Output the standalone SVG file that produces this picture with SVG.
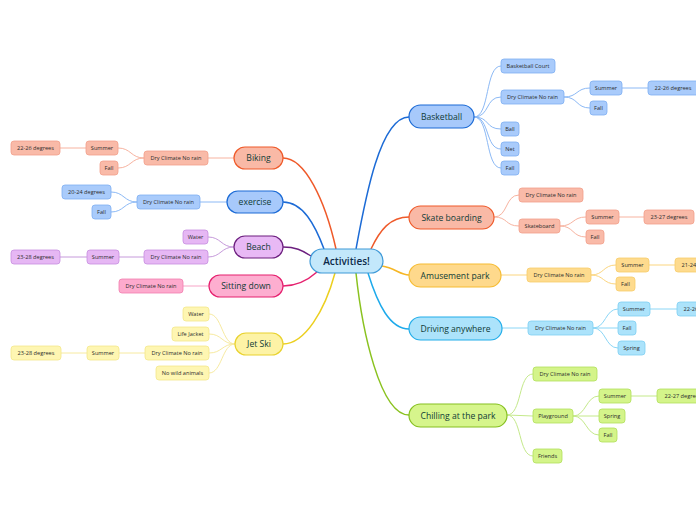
<svg xmlns="http://www.w3.org/2000/svg" width="696" height="520" viewBox="0 0 696 520">
<style>
text{font-family:"Open Sans","Noto Sans","DejaVu Sans",sans-serif;text-anchor:middle;dominant-baseline:central}
.mt{font-size:8.6px;fill:#0f3b36;font-weight:500}
.st{font-size:5.6px;fill:#2b2b2b}
.m{stroke-width:1.2}
.s{stroke-width:0.8}
.c{fill:none}
.cm{stroke-width:1.5}
.cs{stroke-width:1}
.blue .m{fill:#a7c9fb;stroke:#1c6bd6}.blue .s{fill:#a9cbfb;stroke:#7eaef2}
.red .m{fill:#f9b9a6;stroke:#ef5a2a}.red .s{fill:#f9baa8;stroke:#f3a08a}
.yel .m{fill:#fed98c;stroke:#f6bc33}.yel .s{fill:#fedb8e;stroke:#f8cd6a}
.cya .m{fill:#ace3fb;stroke:#23aeea}.cya .s{fill:#ace3fb;stroke:#7fcff3}
.grn .m{fill:#d6f58c;stroke:#86c020}.grn .s{fill:#d4f48a;stroke:#b1e05a}
.pur .m{fill:#e8b9f5;stroke:#6c1f7f}.pur .s{fill:#e6b7f4;stroke:#c78de0}
.pnk .m{fill:#fdaed0;stroke:#e5206e}.pnk .s{fill:#fdaacd;stroke:#f17eae}
.jet .m{fill:#fdf3a6;stroke:#e9d22f}.jet .s{fill:#fef6b2;stroke:#f4e78a}
</style>
<rect width="696" height="520" fill="#ffffff"/>
<g id="connectors" class="c">
<path class="cm" stroke="#1c6bd6" d="M356 249 C365 200,380 117,409 117"/>
<path class="cm" stroke="#ef5a2a" d="M371 249 C380 230,390 217,409 217"/>
<path class="cm" stroke="#f6b624" d="M382 266 C395 268,400 275,409 275"/>
<path class="cm" stroke="#1eaaeb" d="M368 273 C378 305,390 329,409 329"/>
<path class="cm" stroke="#8ac21f" d="M356 273 C362 330,380 415,409 415"/>
<path class="cm" stroke="#ef5a2a" d="M283 158 C305 158,325 200,336 249"/>
<path class="cm" stroke="#1c6bd6" d="M283 202 C303 202,315 225,324 249"/>
<path class="cm" stroke="#6c1f7f" d="M283 247 C295 247,302 250,311 256"/>
<path class="cm" stroke="#e5206e" d="M283 286 C298 286,308 280,317 272"/>
<path class="cm" stroke="#eccf1e" d="M283 344 C305 344,325 310,335 273"/>
<g class="cs" stroke="#8cb9f5">
<path d="M474 117 C490 117,485 66,501 66"/>
<path d="M474 117 C490 117,485 97,501 97"/>
<path d="M474 117 C490 117,485 129,501 129"/>
<path d="M474 117 C490 117,485 149,501 149"/>
<path d="M474 117 C490 117,485 168,501 168"/>
<path d="M564 97 C578 97,576 88,590 88"/>
<path d="M564 97 C578 97,576 108,590 108"/>
<path d="M622 88 L648 88"/>
</g>
<g class="cs" stroke="#f7b3a0">
<path d="M494 217 C508 217,505 195,519 195"/>
<path d="M494 217 C508 217,505 226,519 226"/>
<path d="M560 226 C574 226,572 217,586 217"/>
<path d="M560 226 C574 226,572 237,586 237"/>
<path d="M619 217 L644 217"/>
</g>
<g class="cs" stroke="#fbd57e">
<path d="M501 275 L527 275"/>
<path d="M591 275 C604 275,603 265,616 265"/>
<path d="M591 275 C604 275,603 284,616 284"/>
<path d="M649 265 L675 265"/>
</g>
<g class="cs" stroke="#8bd6f6">
<path d="M502 328 L528 328"/>
<path d="M593 328 C606 328,605 309,618 309"/>
<path d="M593 328 L618 328"/>
<path d="M593 328 C606 328,605 348,618 348"/>
<path d="M650 309 L677 309"/>
</g>
<g class="cs" stroke="#c4e98a">
<path d="M507 415 C522 415,518 374,533 374"/>
<path d="M507 415 L533 416"/>
<path d="M507 415 C522 415,518 456,533 456"/>
<path d="M573 416 C586 416,586 396,599 396"/>
<path d="M573 416 L599 416"/>
<path d="M573 416 C586 416,586 435,599 435"/>
<path d="M631 396 L657 396"/>
</g>
<g class="cs" stroke="#f7b3a0">
<path d="M234 158 L208 158"/>
<path d="M144 158 C131 158,131 148,118 148"/>
<path d="M144 158 C131 158,131 168,118 168"/>
<path d="M86 148 L60 148"/>
</g>
<g class="cs" stroke="#8cb9f5">
<path d="M227 202 L200 202"/>
<path d="M137 202 C124 202,124 192,111 192"/>
<path d="M137 202 C124 202,124 212,111 212"/>
</g>
<g class="cs" stroke="#c69adb">
<path d="M234 247 C221 247,221 237,208 237"/>
<path d="M234 247 C221 247,221 257,208 257"/>
<path d="M144 257 L119 257"/>
<path d="M87 257 L60 257"/>
</g>
<g class="cs" stroke="#f7a4c7">
<path d="M209 286 L183 286"/>
</g>
<g class="cs" stroke="#f7eaa0">
<path d="M235 344 C222 344,222 314,209 314"/>
<path d="M235 344 C222 344,222 334,209 334"/>
<path d="M235 344 C222 344,222 353,209 353"/>
<path d="M235 344 C222 344,222 373,209 373"/>
<path d="M145 353 L119 353"/>
<path d="M87 353 L61 353"/>
</g>
</g>

<g id="center">
<rect x="310" y="249" width="73" height="24" rx="12" fill="#c3e8fb" stroke="#3f9ad8" stroke-width="1.2"/>
<text x="346.5" y="261" style="font-size:10px;fill:#0d2b4a;font-weight:600">Activities!</text>
</g>

<g id="basketball" class="blue">
<rect class="m" x="409" y="105" width="65" height="23" rx="11.5"/><text class="mt" x="441.5" y="116.5">Basketball</text>
<rect class="s" x="501" y="59" width="54" height="14" rx="3"/><text class="st" x="528" y="66">Basketball Court</text>
<rect class="s" x="501" y="90" width="63" height="14" rx="3"/><text class="st" x="532.5" y="97">Dry Climate No rain</text>
<rect class="s" x="590" y="81" width="32" height="14" rx="3"/><text class="st" x="606" y="88">Summer</text>
<rect class="s" x="648" y="81" width="52" height="14" rx="3"/><text class="st" x="673" y="88">22-26 degrees</text>
<rect class="s" x="590" y="101" width="17" height="14" rx="3"/><text class="st" x="598.5" y="108">Fall</text>
<rect class="s" x="501" y="122" width="18" height="14" rx="3"/><text class="st" x="510" y="129">Ball</text>
<rect class="s" x="501" y="142" width="18" height="14" rx="3"/><text class="st" x="510" y="149">Net</text>
<rect class="s" x="501" y="161" width="18" height="14" rx="3"/><text class="st" x="510" y="168">Fall</text>
</g>

<g id="skateboarding" class="red">
<rect class="m" x="409" y="206" width="85" height="23" rx="11.5"/><text class="mt" x="451.5" y="217.5">Skate boarding</text>
<rect class="s" x="519" y="188" width="64" height="14" rx="3"/><text class="st" x="551" y="195">Dry Climate No rain</text>
<rect class="s" x="519" y="219" width="41" height="14" rx="3"/><text class="st" x="539.5" y="226">Skateboard</text>
<rect class="s" x="586" y="210" width="33" height="14" rx="3"/><text class="st" x="602.5" y="217">Summer</text>
<rect class="s" x="644" y="210" width="50" height="14" rx="3"/><text class="st" x="669" y="217">23-27 degrees</text>
<rect class="s" x="586" y="230" width="18" height="14" rx="3"/><text class="st" x="595" y="237">Fall</text>
</g>

<g id="amusementpark" class="yel">
<rect class="m" x="409" y="264" width="92" height="23" rx="11.5"/><text class="mt" x="455" y="275.5">Amusement park</text>
<rect class="s" x="527" y="268" width="64" height="14" rx="3"/><text class="st" x="559" y="275">Dry Climate No rain</text>
<rect class="s" x="616" y="258" width="33" height="14" rx="3"/><text class="st" x="632.5" y="265">Summer</text>
<rect class="s" x="675" y="258" width="50" height="14" rx="3"/><text class="st" x="700" y="265">21-24 degrees</text>
<rect class="s" x="616" y="277" width="19" height="14" rx="3"/><text class="st" x="625.5" y="284">Fall</text>
</g>

<g id="driving" class="cya">
<rect class="m" x="409" y="317" width="93" height="23" rx="11.5"/><text class="mt" x="455.5" y="328.5">Driving anywhere</text>
<rect class="s" x="528" y="321" width="65" height="14" rx="3"/><text class="st" x="560.5" y="328">Dry Climate No rain</text>
<rect class="s" x="618" y="302" width="32" height="14" rx="3"/><text class="st" x="634" y="309">Summer</text>
<rect class="s" x="677" y="302" width="50" height="14" rx="3"/><text class="st" x="702" y="309">22-26 degrees</text>
<rect class="s" x="618" y="321" width="18" height="14" rx="3"/><text class="st" x="627" y="328">Fall</text>
<rect class="s" x="618" y="341" width="27" height="14" rx="3"/><text class="st" x="631.5" y="348">Spring</text>
</g>

<g id="chilling" class="grn">
<rect class="m" x="409" y="404" width="98" height="23" rx="11.5"/><text class="mt" x="458" y="415.5">Chilling at the park</text>
<rect class="s" x="533" y="367" width="64" height="14" rx="3"/><text class="st" x="565" y="374">Dry Climate No rain</text>
<rect class="s" x="533" y="409" width="40" height="14" rx="3"/><text class="st" x="553" y="416">Playground</text>
<rect class="s" x="599" y="389" width="32" height="14" rx="3"/><text class="st" x="615" y="396">Summer</text>
<rect class="s" x="657" y="389" width="52" height="14" rx="3"/><text class="st" x="683" y="396">22-27 degrees</text>
<rect class="s" x="599" y="409" width="26" height="14" rx="3"/><text class="st" x="612" y="416">Spring</text>
<rect class="s" x="599" y="428" width="18" height="14" rx="3"/><text class="st" x="608" y="435">Fall</text>
<rect class="s" x="533" y="449" width="29" height="14" rx="3"/><text class="st" x="547.5" y="456">Friends</text>
</g>

<g id="biking" class="red">
<rect class="m" x="234" y="147" width="49" height="22" rx="11"/><text class="mt" x="258.5" y="158">Biking</text>
<rect class="s" x="144" y="151" width="64" height="14" rx="3"/><text class="st" x="176" y="158">Dry Climate No rain</text>
<rect class="s" x="86" y="141" width="32" height="14" rx="3"/><text class="st" x="102" y="148">Summer</text>
<rect class="s" x="11" y="141" width="49" height="14" rx="3"/><text class="st" x="35.5" y="148">22-26 degrees</text>
<rect class="s" x="100" y="161" width="18" height="14" rx="3"/><text class="st" x="109" y="168">Fall</text>
</g>

<g id="exercise" class="blue">
<rect class="m" x="227" y="191" width="56" height="22" rx="11"/><text class="mt" x="255" y="202">exercise</text>
<rect class="s" x="137" y="195" width="63" height="14" rx="3"/><text class="st" x="168.5" y="202">Dry Climate No rain</text>
<rect class="s" x="62" y="185" width="49" height="14" rx="3"/><text class="st" x="86.5" y="192">20-24 degrees</text>
<rect class="s" x="92" y="205" width="19" height="14" rx="3"/><text class="st" x="101.5" y="212">Fall</text>
</g>

<g id="beach" class="pur">
<rect class="m" x="234" y="236" width="49" height="22" rx="11"/><text class="mt" x="258.5" y="247">Beach</text>
<rect class="s" x="183" y="230" width="25" height="14" rx="3"/><text class="st" x="195.5" y="237">Water</text>
<rect class="s" x="144" y="250" width="64" height="14" rx="3"/><text class="st" x="176" y="257">Dry Climate No rain</text>
<rect class="s" x="87" y="250" width="32" height="14" rx="3"/><text class="st" x="103" y="257">Summer</text>
<rect class="s" x="11" y="250" width="49" height="14" rx="3"/><text class="st" x="35.5" y="257">23-28 degrees</text>
</g>

<g id="sittingdown" class="pnk">
<rect class="m" x="209" y="275" width="74" height="22" rx="11"/><text class="mt" x="246" y="286">Sitting down</text>
<rect class="s" x="119" y="279" width="64" height="14" rx="3"/><text class="st" x="151" y="286">Dry Climate No rain</text>
</g>

<g id="jetski" class="jet">
<rect class="m" x="235" y="333" width="48" height="22" rx="11"/><text class="mt" x="259" y="344">Jet Ski</text>
<rect class="s" x="183" y="307" width="26" height="14" rx="3"/><text class="st" x="196" y="314">Water</text>
<rect class="s" x="172" y="327" width="37" height="14" rx="3"/><text class="st" x="190.5" y="334">Life Jacket</text>
<rect class="s" x="145" y="346" width="64" height="14" rx="3"/><text class="st" x="177" y="353">Dry Climate No rain</text>
<rect class="s" x="156" y="366" width="53" height="14" rx="3"/><text class="st" x="182.5" y="373">No wild animals</text>
<rect class="s" x="87" y="346" width="32" height="14" rx="3"/><text class="st" x="103" y="353">Summer</text>
<rect class="s" x="11" y="346" width="50" height="14" rx="3"/><text class="st" x="36" y="353">23-28 degrees</text>
</g>
</svg>
